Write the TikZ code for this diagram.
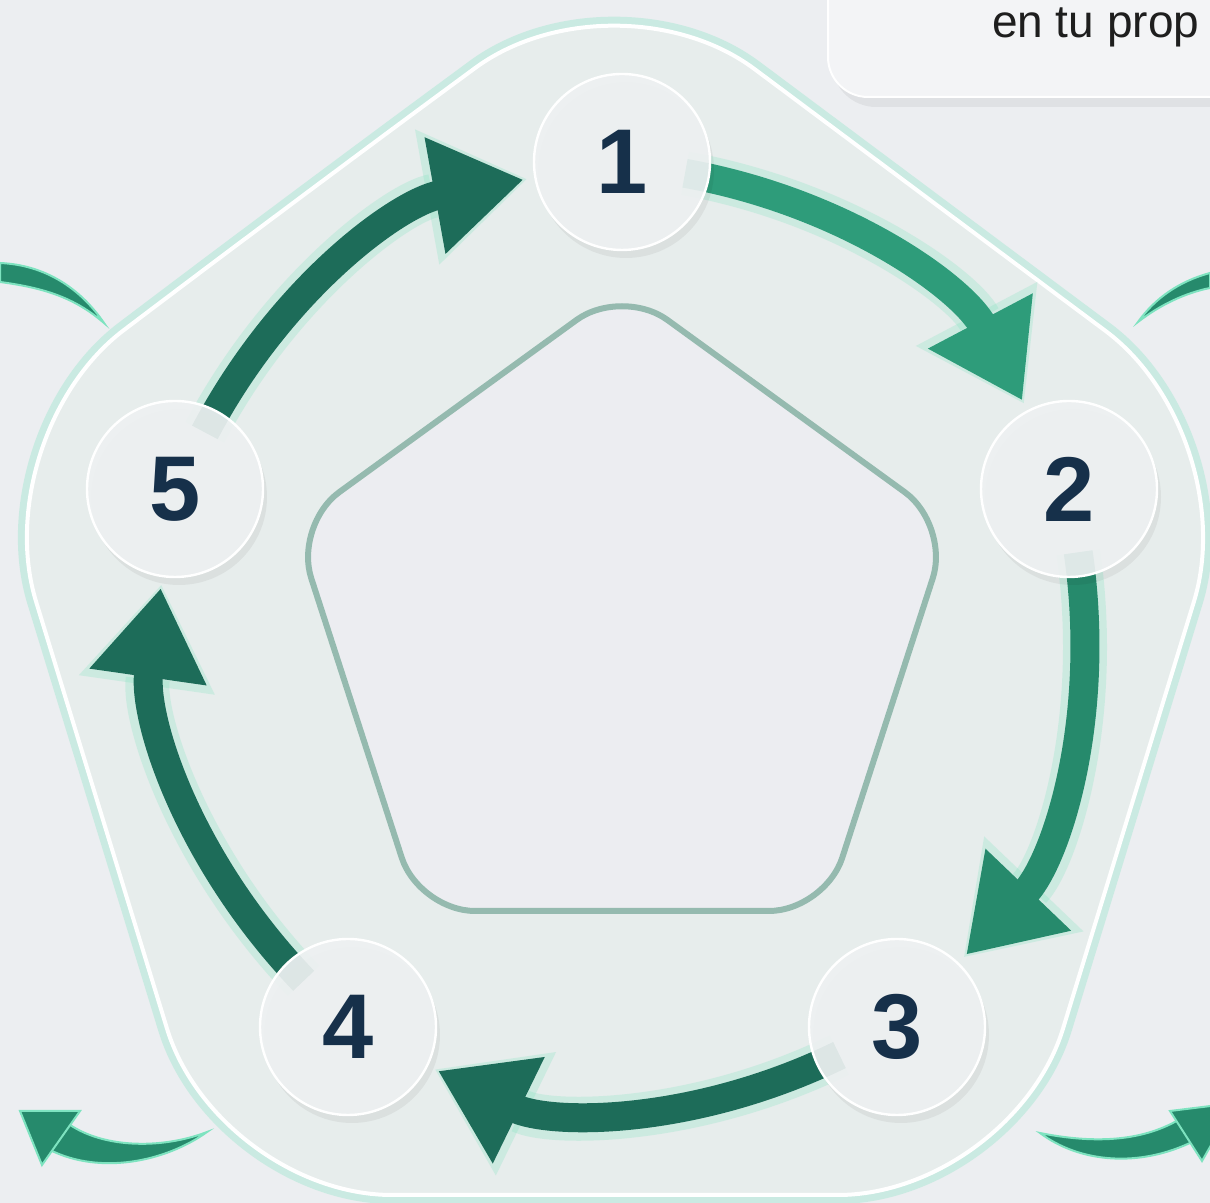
\documentclass[tikz,border=0pt]{standalone}
\usepackage{fontspec}
\setmainfont{Liberation Sans}
\usetikzlibrary{arrows.meta,calc}
\definecolor{bgcol}{HTML}{ECEEF1}
\definecolor{bandfill}{HTML}{E7EDEC}
\definecolor{innerfill}{HTML}{ECEDF1}
\definecolor{innerline}{HTML}{95BAAF}
\definecolor{circfill}{HTML}{EEF1F2}
\definecolor{numcol}{HTML}{16304A}
\definecolor{arrowlight}{HTML}{2E9C7A}
\definecolor{arrowmid}{HTML}{268A6C}
\definecolor{arrowdark}{HTML}{1D6C59}
\definecolor{mint}{HTML}{7EE3C0}
\definecolor{boxfill}{HTML}{F3F4F6}
\definecolor{textcol}{HTML}{1E1E1E}
\pgfdeclarelayer{back}
\pgfdeclarelayer{mid}
\pgfsetlayers{back,mid,main}
\tikzset{
	stepnode/.style={circle,minimum size=88pt,inner sep=0pt,outer sep=0pt,fill=circfill,fill opacity=0.92,text opacity=1,draw=white,line width=1.2pt,text=numcol,font=\bfseries\fontsize{46}{46}\selectfont,
		preaction={fill=black,fill opacity=0.05,draw=none,transform canvas={xshift=2pt,yshift=-4pt}}},
	flow/.style={draw=#1,line width=14.5pt,-{Triangle[width=56pt,length=45pt]},shorten <=-12pt,shorten >=6pt},
	flow/.default=arrowdark,
	halo/.style={draw=mint,opacity=0.25,line width=22pt,-{Triangle[width=65pt,length=51pt]},shorten <=-12pt,shorten >=4pt},
	ring/.style={bend left=26,looseness=0.9},
	deco/.style={fill=arrowmid,draw=mint,line width=1pt}
}

\begin{document}
\begin{tikzpicture}[x=0.5pt,y=0.5pt]
\useasboundingbox (0,0) rectangle (1210,1203);
\begin{pgfonlayer}{back}
\fill[bgcol] (0,0) rectangle (1210,1203);
\path[fill=bandfill,preaction={draw=mint,line width=9pt,opacity=0.3},postaction={draw=white,line width=2pt},rounded corners=87pt]
	(296,1003) -- (615,1238) -- (1245,768) -- (1012,8) -- (218,8) -- (-15,768) -- cycle;
\path[fill=innerfill,draw=innerline,line width=3pt,rounded corners=28pt]
	(458,797) -- (622,916) -- (950,678) -- (825,292) -- (419,292) -- (294,678) -- cycle;
% bits of the next rings
\fill[deco] (0,940) .. controls (45,938) and (80,915) .. (104,880) .. controls (75,905) and (45,915) .. (0,921) -- cycle;
\fill[deco] (1210,930) .. controls (1180,922) and (1155,905) .. (1138,881) .. controls (1160,898) and (1185,910) .. (1210,915) -- cycle;
\fill[deco] (66,81) .. controls (100,55) and (160,53) .. (207,71) .. controls (165,41) and (100,28) .. (50,53) -- cycle;
\fill[deco] (20,92) -- (80,92) -- (42,38) -- cycle;
\fill[deco] (1040,70) .. controls (1080,40) and (1140,35) .. (1194,62) -- (1180,84) .. controls (1140,60) and (1090,60) .. (1040,70) -- cycle;
\fill[deco] (1170,92) -- (1202,42) -- (1235,100) -- cycle;
\end{pgfonlayer}

\node[stepnode] (n1) at (622,1041) {1};
\node[stepnode] (n2) at (1069,714) {2};
\node[stepnode] (n3) at (897,176) {3};
\node[stepnode] (n4) at (348,176) {4};
\node[stepnode] (n5) at (175,714) {5};

\begin{pgfonlayer}{mid}
\foreach \a/\b/\c in {1/2/arrowlight,2/3/arrowmid,3/4/arrowdark,4/5/arrowdark,5/1/arrowdark}{
	\draw[halo] (n\a) to[ring] (n\b);
	\draw[flow=\c] (n\a) to[ring] (n\b);
}
\end{pgfonlayer}

\fill[black,opacity=0.05,rounded corners=22pt] (832,1096) rectangle (1304,1260);
\filldraw[fill=boxfill,draw=white,line width=1pt,rounded corners=20pt] (828,1106) rectangle (1300,1260);
\node[anchor=base west,text=textcol,font=\fontsize{23}{23}\selectfont] (note) at (985,1165) {en tu prop};
\end{tikzpicture}
\end{document}
